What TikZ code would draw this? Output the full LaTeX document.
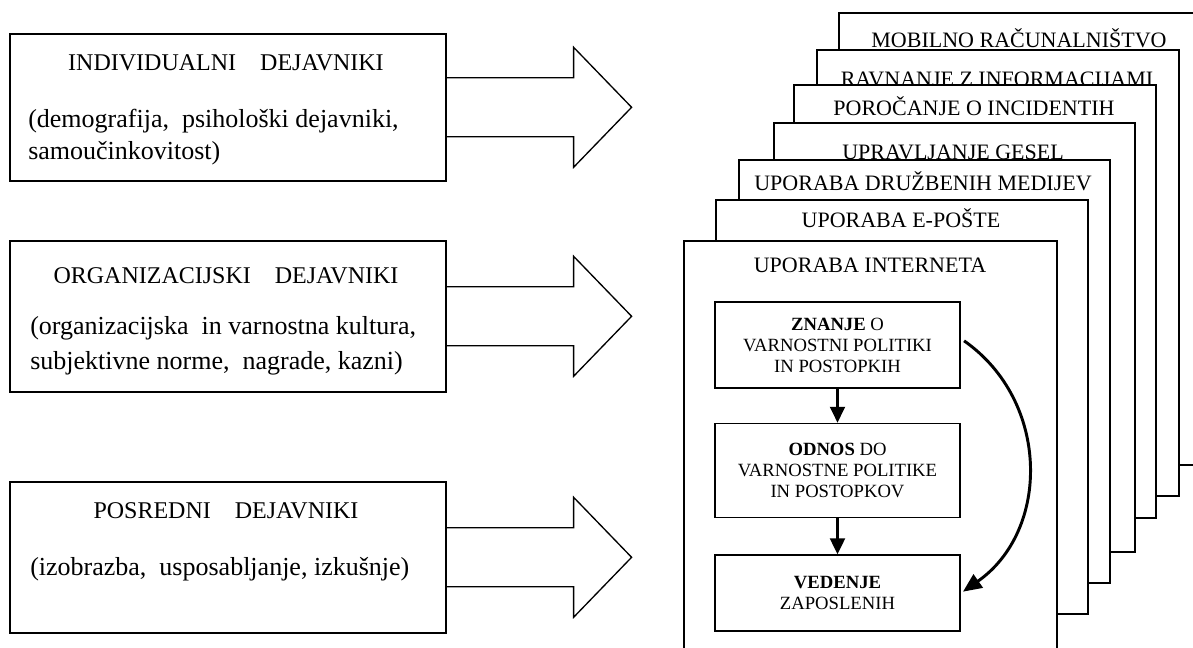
\documentclass[tikz,border=0pt]{standalone}
\usepackage{fontspec}
\setmainfont{Liberation Serif}
\usetikzlibrary{positioning, calc, arrows.meta}
\tikzset{
  factor/.style={draw, line width=1.2pt, anchor=north west, minimum width=327pt, inner sep=0pt},
  ftitle/.style={font=\fontsize{18}{22}\selectfont, text height=11.9pt, text depth=0pt, inner sep=0pt},
  fdesc/.style={font=\fontsize{19.5}{24}\selectfont, align=left, anchor=west, inner sep=0pt},
  bigarrow/.style={draw, line width=1pt, line join=miter},
  layer/.style={draw, fill=white, line width=1.3pt, anchor=north west, inner sep=0pt},
  ltitle/.style={font=\fontsize{16.5}{19}\selectfont, text height=10.9pt, text depth=0pt, inner sep=0pt},
  stage/.style={draw, line width=1.2pt, minimum width=183.75pt, align=center, inner sep=0pt,
    font=\fontsize{14}{15.75}\selectfont},
  flow/.style={line width=2.2pt, -{Triangle[length=12pt,width=11pt]}}
}

\begin{document}
\begin{tikzpicture}[x=0.75pt, y=-0.75pt]
  \useasboundingbox (0,0) rectangle (1193,648);
  \clip (0,0) rectangle (1193,648);

  % factors
  \node[factor, minimum height=110.25pt] (ind) at (9,33) {};
  \node[factor, minimum height=113.25pt] (org) at (9,240) {};
  \node[factor, minimum height=113.25pt] (pos) at (9,481) {};

  \node[ftitle] (indt) at (226,63) {INDIVIDUALNI\quad DEJAVNIKI};
  \node[fdesc] (indd) at (28,137) {(demografija,\ \ psihološki dejavniki,\\samoučinkovitost)};
  \node[ftitle] (orgt) at (226,276) {ORGANIZACIJSKI\quad DEJAVNIKI};
  \node[fdesc, font=\fontsize{19.5}{26}\selectfont] (orgd) at (30,346) {(organizacijska\ \ in varnostna kultura,\\subjektivne norme,\ \ nagrade, kazni)};
  \node[ftitle] (post) at (226,511) {POSREDNI\quad DEJAVNIKI};
  \node[fdesc] (posd) at (30,569) {(izobrazba,\ \ usposabljanje, izkušnje)};

  \foreach \f in {ind,org,pos}
    \draw[bigarrow] (\f.east) ++(0,-29.5) -- ++(127,0) -- ++(0,-30.5) -- ++(58,60)
      -- ++(-58,60) -- ++(0,-30.5) -- ++(-127,0);

  % stack of areas
  \node[layer, minimum width=271.5pt, minimum height=339pt] (mob) at (838,12) {};
  \node[ltitle] (mobt) at (1019,40) {MOBILNO RAČUNALNIŠTVO};
  \node[layer, minimum width=271.5pt, minimum height=334.5pt] (rav) at (816,49) {};
  \node[ltitle] (ravt) at (997,79) {RAVNANJE Z INFORMACIJAMI};
  \node[layer, minimum width=271.5pt, minimum height=324.75pt] (por) at (793,84) {};
  \node[ltitle] (port) at (974,108) {POROČANJE O INCIDENTIH};
  \node[layer, minimum width=270.75pt, minimum height=321.75pt] (ges) at (773,122) {};
  \node[ltitle] (gest) at (953,152) {UPRAVLJANJE GESEL};
  \node[layer, minimum width=278.25pt, minimum height=317.25pt] (med) at (738,159) {};
  \node[ltitle] (medt) at (923,183) {UPORABA DRUŽBENIH MEDIJEV};
  \node[layer, minimum width=279pt, minimum height=310.5pt] (mail) at (715,199) {};
  \node[ltitle] (mailt) at (901,220) {UPORABA E-POŠTE};
  \node[layer, minimum width=279.75pt, minimum height=315pt] (int) at (683,240) {};
  \node[ltitle] (intt) at (870,265) {UPORABA INTERNETA};

  % knowledge, attitude, behaviour
  \node[stage, minimum height=64.5pt] (zn) at (837.5,345) {\textbf{ZNANJE} O\\VARNOSTNI POLITIKI\\IN POSTOPKIH};
  \node[stage, minimum height=70.5pt, below=25.5pt of zn] (od) {\textbf{ODNOS} DO\\VARNOSTNE POLITIKE\\IN POSTOPKOV};
  \node[stage, minimum height=57pt, below=27pt of od] (ved) {\textbf{VEDENJE}\\ZAPOSLENIH};

  \draw[flow] (zn) -- (od);
  \draw[flow] (od) -- (ved);
  \draw[flow, -{Triangle[length=14pt,width=12pt]}, shorten <=3pt, shorten >=2pt]
    (zn.3) to[bend left=55, looseness=1.1] (ved.east);
\end{tikzpicture}
\end{document}
